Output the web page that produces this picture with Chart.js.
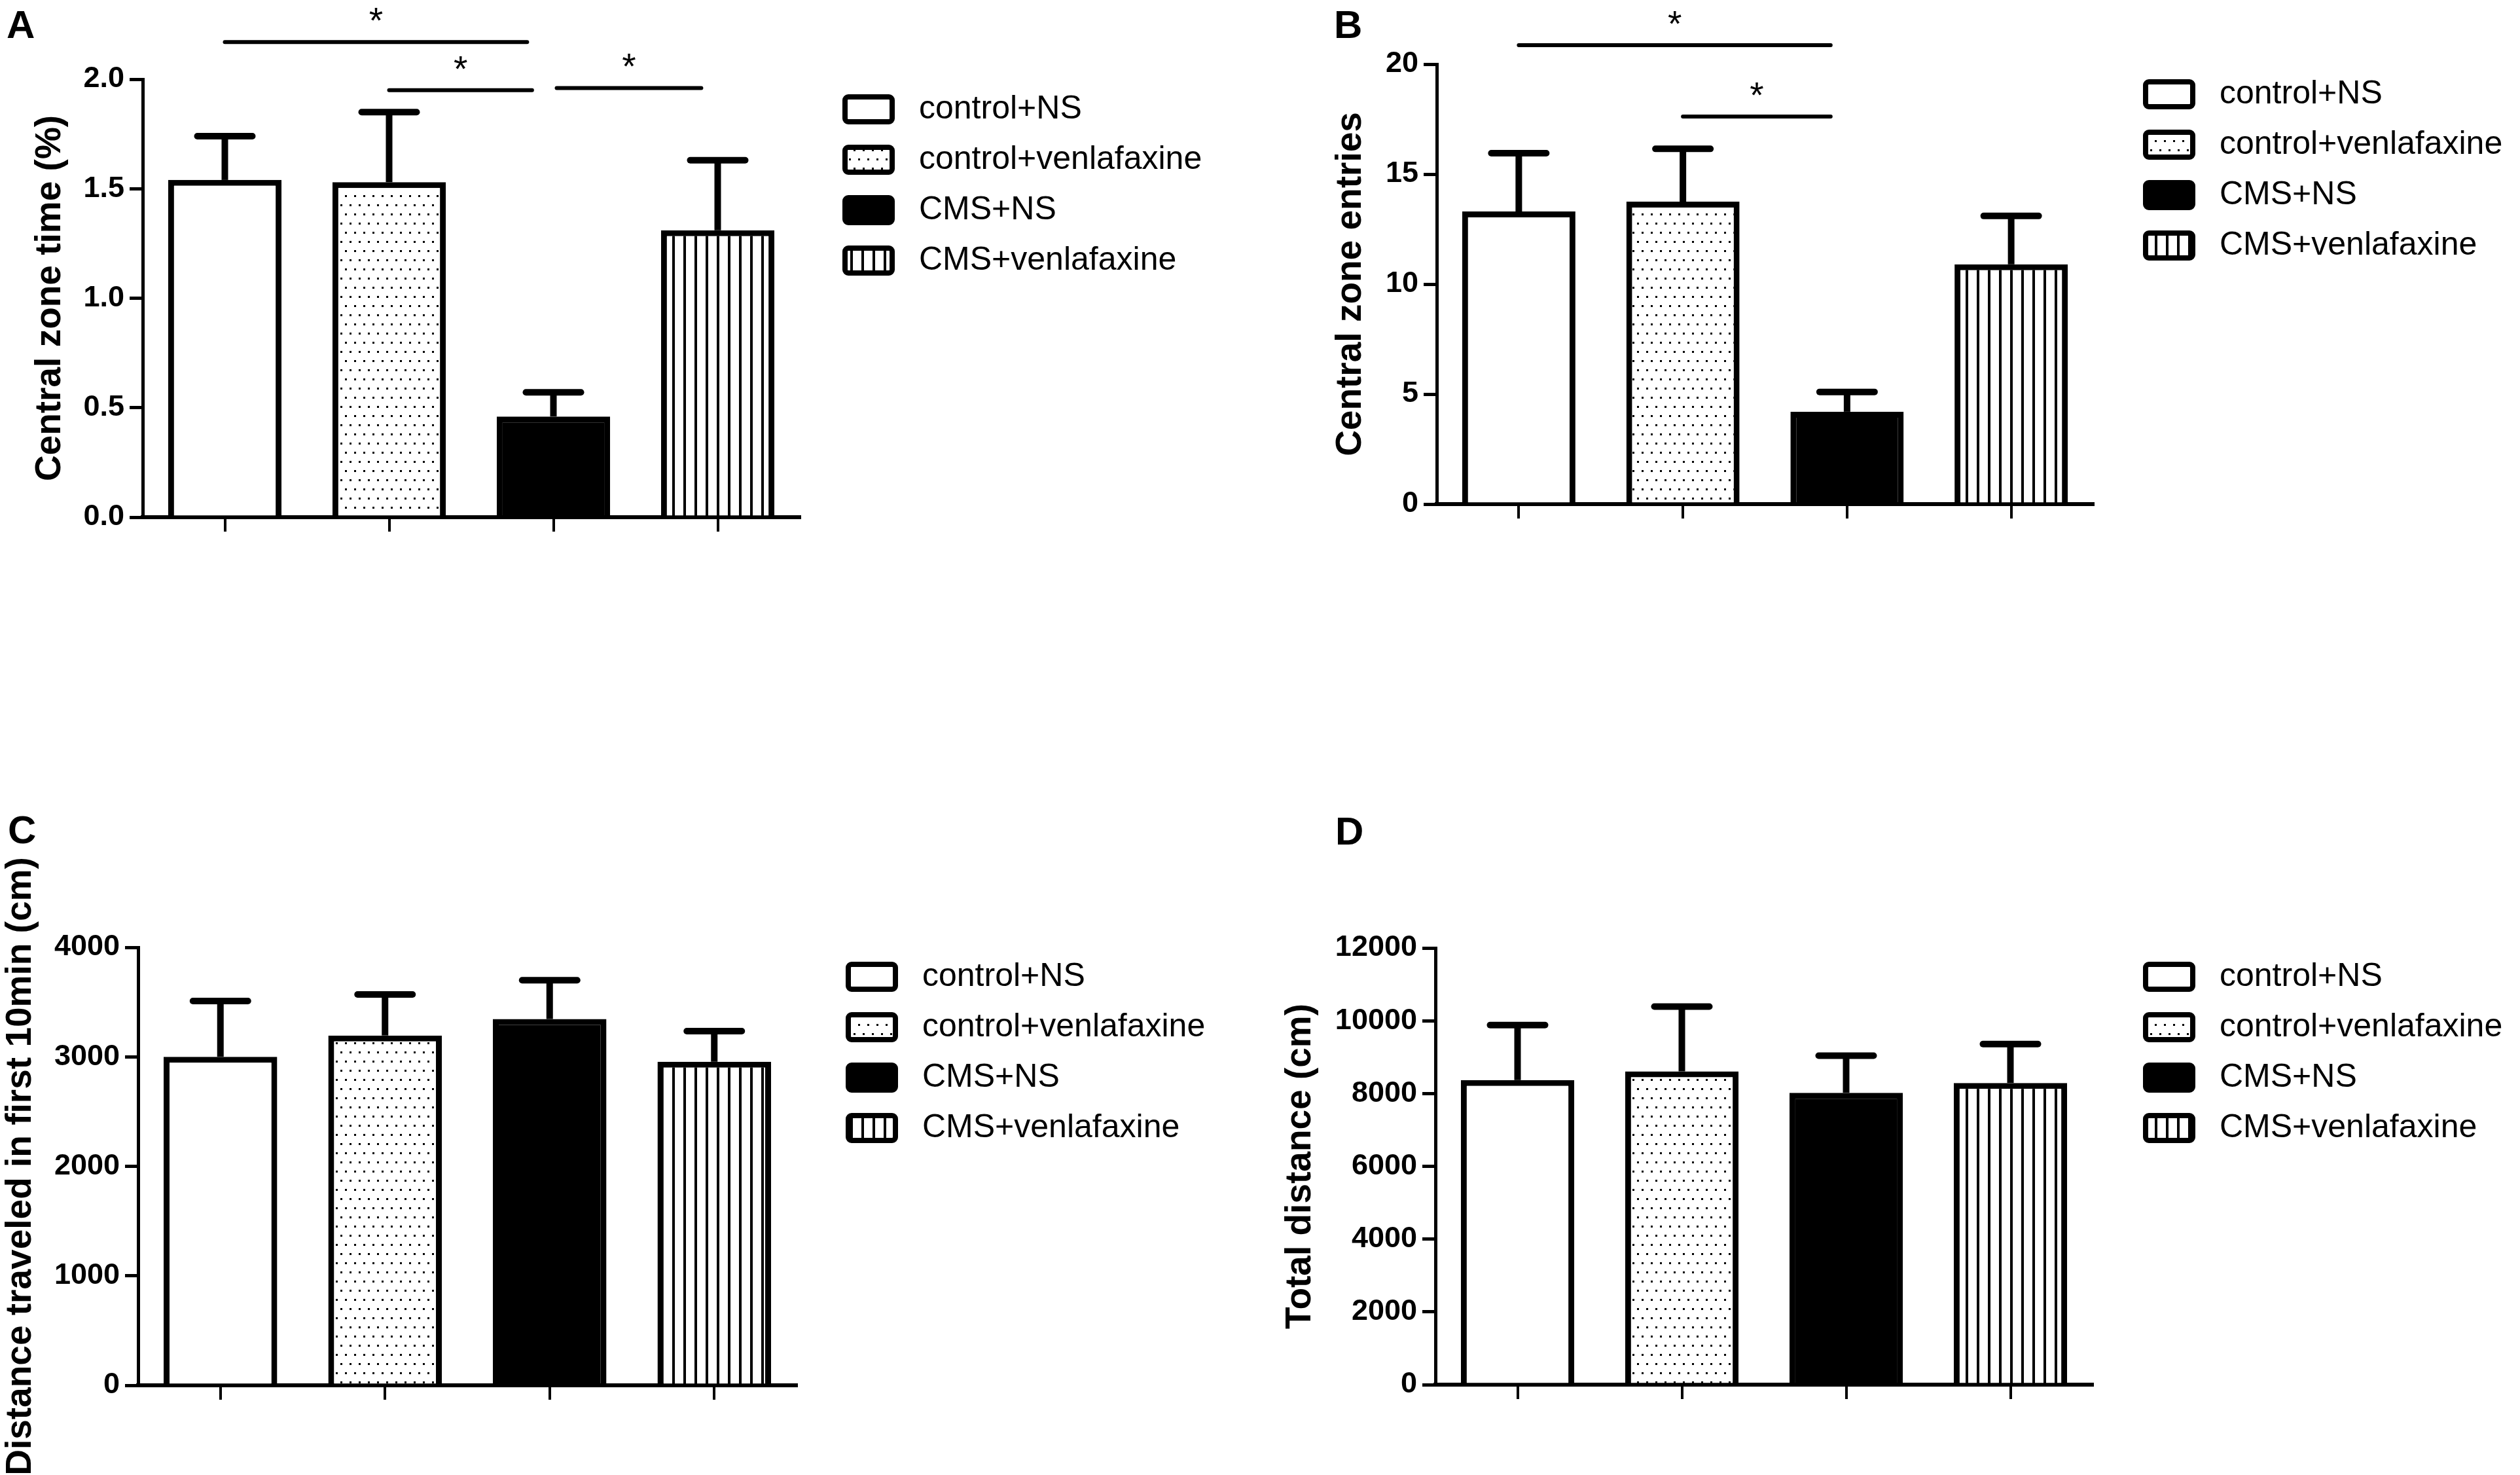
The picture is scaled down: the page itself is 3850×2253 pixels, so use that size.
<!DOCTYPE html>
<html>
<head>
<meta charset="utf-8">
<script src="https://cdn.jsdelivr.net/npm/chart.js@4.4.1/dist/chart.umd.min.js"></script>
<style>
html, body { margin: 0; padding: 0; background: #fff; }
body { width: 3850px; height: 2253px; position: relative; overflow: hidden; }
.panel { position: absolute; width: 1925px; }
</style>
</head>
<body>
<div class="panel" style="left:0;top:0;height:1126px"><canvas id="chart-time"></canvas></div>
<div class="panel" style="left:1925px;top:0;height:1126px"><canvas id="chart-entries"></canvas></div>
<div class="panel" style="left:0;top:1126px;height:1127px"><canvas id="chart-first"></canvas></div>
<div class="panel" style="left:1925px;top:1126px;height:1127px"><canvas id="chart-total"></canvas></div>
<script>
// groups shown in every panel
var groups = ['control+NS', 'control+venlafaxine', 'CMS+NS', 'CMS+venlafaxine'];

// A: central zone time (%) - mean and top of error bar
var timeMeans = [1.54, 1.53, 0.46, 1.31];
var timeUpper = [1.74, 1.85, 0.57, 1.63];
var timeTicks = [0, 0.5, 1.0, 1.5, 2.0];

// B: central zone entries
var entryMeans = [13.3, 13.75, 4.2, 10.9];
var entryUpper = [15.95, 16.15, 5.1, 13.1];
var entryTicks = [0, 5, 10, 15, 20];

// C: distance in first 10 min (cm)
var firstMeans = [3000, 3195, 3345, 2955];
var firstUpper = [3510, 3570, 3700, 3235];
var firstTicks = [0, 1000, 2000, 3000, 4000];

// D: total distance (cm)
var totalMeans = [8370, 8610, 8020, 8290];
var totalUpper = [9880, 10390, 9040, 9360];
var totalTicks = [0, 2000, 4000, 6000, 8000, 10000, 12000];

// significance brackets: from group, to group, level
var timeSig = [[0, 1.84, 2.17], [1, 1.87, 1.95], [2.02, 2.9, 1.96]];
var entrySig = [[0, 1.9, 20.86], [1, 1.9, 17.62]];

function makeDots() {
    var c = document.createElement('canvas');
    c.width = 14; c.height = 28;
    var x = c.getContext('2d');
    x.fillStyle = '#fff'; x.fillRect(0, 0, 14, 28);
    x.fillStyle = '#000';
    x.fillRect(2, 4, 3, 3);
    x.fillRect(9, 18, 3, 3);
    return x.createPattern(c, 'repeat');
}
function makeStripes() {
    var c = document.createElement('canvas');
    c.width = 17; c.height = 4;
    var x = c.getContext('2d');
    x.fillStyle = '#fff'; x.fillRect(0, 0, 17, 4);
    x.fillStyle = '#000'; x.fillRect(7, 0, 4, 4);
    return x.createPattern(c, 'repeat');
}
var fills = ['#ffffff', makeDots(), '#000000', makeStripes()];

function errorBars(upper) {
    return {
        id: 'errorBars',
        afterDatasetsDraw: function(chart) {
            var ctx = chart.ctx, y = chart.scales.y;
            ctx.save();
            ctx.strokeStyle = '#000';
            ctx.lineWidth = 10;
            chart.getDatasetMeta(0).data.forEach(function(bar, i) {
                var top = y.getPixelForValue(upper[i]);
                ctx.lineCap = 'butt';
                ctx.beginPath(); ctx.moveTo(bar.x, bar.y); ctx.lineTo(bar.x, top); ctx.stroke();
                ctx.lineCap = 'round';
                ctx.beginPath(); ctx.moveTo(bar.x - 42, top); ctx.lineTo(bar.x + 42, top); ctx.stroke();
            });
            ctx.restore();
        }
    };
}

function sigMarks(list) {
    return {
        id: 'sigMarks',
        afterDraw: function(chart) {
            var ctx = chart.ctx, x = chart.scales.x, y = chart.scales.y;
            ctx.save();
            ctx.strokeStyle = '#000'; ctx.fillStyle = '#000';
            ctx.lineWidth = 6; ctx.lineCap = 'round';
            ctx.font = '55px "Liberation Sans", Arial, sans-serif';
            ctx.textAlign = 'center'; ctx.textBaseline = 'alphabetic';
            list.forEach(function(s) {
                var x1 = x.getPixelForValue(s[0]), x2 = x.getPixelForValue(s[1]);
                var ly = y.getPixelForValue(s[2]);
                ctx.beginPath(); ctx.moveTo(x1, ly); ctx.lineTo(x2, ly); ctx.stroke();
                ctx.fillText('*', (x1 + x2) / 2, ly - 14);
            });
            ctx.restore();
        }
    };
}

function panelLegend(dx, dy, letter, lx, ly) {
    return {
        id: 'panelLegend',
        afterDraw: function(chart) {
            var ctx = chart.ctx, a = chart.chartArea;
            ctx.save();
            var bx = a.right + dx;
            groups.forEach(function(g, i) {
                var cy = a.top + dy + i * 77;
                ctx.beginPath();
                ctx.roundRect(bx + 4, cy - 19, 72, 38, 5);
                ctx.fillStyle = fills[i];
                ctx.fill();
                ctx.lineWidth = 8; ctx.strokeStyle = '#000';
                ctx.stroke();
                ctx.fillStyle = '#000';
                ctx.font = '50px "Liberation Sans", Arial, sans-serif';
                ctx.textAlign = 'left'; ctx.textBaseline = 'middle';
                ctx.fillText(g, bx + 117, cy);
            });
            ctx.font = 'bold 60px "Liberation Sans", Arial, sans-serif';
            ctx.textAlign = 'left'; ctx.textBaseline = 'alphabetic';
            ctx.fillText(letter, lx, ly + 43);
            ctx.restore();
        }
    };
}

function buildChart(id, p) {
    var h = document.getElementById(id).parentNode.clientHeight;
    return new Chart(document.getElementById(id), {
        type: 'bar',
        data: {
            labels: groups,
            datasets: [{
                data: p.means,
                backgroundColor: fills,
                borderColor: '#000',
                borderWidth: 9,
                barPercentage: 0.69,
                categoryPercentage: 1.0
            }]
        },
        options: {
            responsive: true,
            maintainAspectRatio: false,
            devicePixelRatio: 1,
            animation: false,
            layout: { padding: { left: 0, top: p.top, right: 1925 - p.right, bottom: h - p.bottom - 40 } },
            plugins: { legend: { display: false }, tooltip: { enabled: false } },
            scales: {
                x: {
                    type: 'category',
                    offset: true,
                    border: { display: true, color: '#000', width: 6 },
                    grid: { offset: false, drawOnChartArea: false, drawTicks: true, tickLength: 22, lineWidth: 4, color: '#000' },
                    ticks: { display: false },
                    afterFit: function(s) { s.height = 40; }
                },
                y: {
                    min: p.ticks[0],
                    max: p.ticks[p.ticks.length - 1],
                    border: { display: true, color: '#000', width: 5 },
                    grid: { drawOnChartArea: false, drawTicks: true, tickLength: 20, lineWidth: 5, color: '#000' },
                    afterBuildTicks: function(s) { s.ticks = p.ticks.map(function(v) { return { value: v }; }); },
                    ticks: {
                        color: '#000',
                        padding: 8,
                        font: { family: '"Liberation Sans", Arial, sans-serif', size: 45, weight: 'bold' },
                        callback: function(v) { return p.decimals ? Number(v).toFixed(p.decimals) : String(v); }
                    },
                    title: {
                        display: true,
                        text: p.title,
                        color: '#000',
                        font: { family: '"Liberation Sans", Arial, sans-serif', size: 55, weight: 'bold', lineHeight: 1 },
                        padding: { top: p.titleX - 27, bottom: 0 }
                    },
                    afterFit: function(s) { s.width = p.left; }
                }
            }
        },
        plugins: [errorBars(p.upper), sigMarks(p.sig || []), panelLegend(p.legendDx, p.legendDy, p.letter, p.letterX, p.letterY)]
    });
}

buildChart('chart-time', {
    means: timeMeans, upper: timeUpper, ticks: timeTicks, decimals: 1, sig: timeSig,
    title: 'Central zone time (%)',
    left: 218, top: 121, right: 1222, bottom: 790, titleX: 76,
    legendDx: 65, legendDy: 46, letter: 'A', letterX: 10, letterY: 15
});
buildChart('chart-entries', {
    means: entryMeans, upper: entryUpper, ticks: entryTicks, sig: entrySig,
    title: 'Central zone entries',
    left: 270, top: 98, right: 1273, bottom: 770, titleX: 138,
    legendDx: 76, legendDy: 46, letter: 'B', letterX: 113, letterY: 15
});
buildChart('chart-first', {
    means: firstMeans, upper: firstUpper, ticks: firstTicks,
    title: 'Distance traveled in first 10min (cm)',
    left: 211, top: 321, right: 1217, bottom: 990, titleX: 31,
    legendDx: 75, legendDy: 45, letter: 'C', letterX: 12, letterY: 119
});
buildChart('chart-total', {
    means: totalMeans, upper: totalUpper, ticks: totalTicks,
    title: 'Total distance (cm)',
    left: 268, top: 322, right: 1272, bottom: 989, titleX: 61,
    legendDx: 77, legendDy: 44, letter: 'D', letterX: 115, letterY: 121
});
</script>
</body>
</html>
